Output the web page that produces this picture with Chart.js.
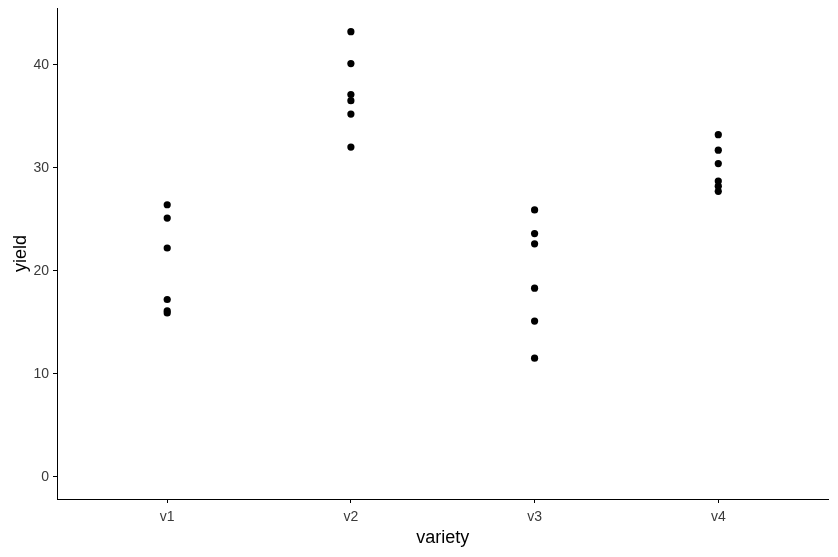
<!DOCTYPE html>
<html>
<head>
<meta charset="utf-8">
<script src="https://cdn.jsdelivr.net/npm/chart.js@4/dist/chart.umd.min.js"></script>
<style>
html,body{margin:0;padding:0;background:#fff;}
#wrap{width:838px;height:557px;}
</style>
</head>
<body>
<div id="wrap"><canvas id="c" width="838" height="557"></canvas></div>
<script>
const categories = ["v1", "v2", "v3", "v4"];
const v1 = [26.4, 25.1, 22.2, 17.2, 16.1, 15.9];
const v2 = [43.2, 40.1, 37.1, 36.5, 35.2, 32.0];
const v3 = [25.9, 23.6, 22.6, 18.3, 15.1, 11.5];
const v4 = [33.2, 31.7, 30.4, 28.7, 28.2, 27.7];
const yTicks = [0, 10, 20, 30, 40];

const series = [v1, v2, v3, v4];
const points = [];
series.forEach((vals, i) => vals.forEach(v => points.push({x: i + 1, y: v})));

const FONT = 'Liberation Sans, Arial, sans-serif';

new Chart(document.getElementById('c'), {
  type: 'scatter',
  data: {
    datasets: [{
      data: points,
      backgroundColor: '#000',
      borderColor: '#000',
      pointRadius: 3.6,
      pointHoverRadius: 3.6,
      borderWidth: 0
    }]
  },
  options: {
    responsive: false,
    animation: false,
    layout: {padding: {top: 8, right: 9.5, left: 0, bottom: 0}},
    plugins: {legend: {display: false}, tooltip: {enabled: false}},
    scales: {
      x: {
        type: 'linear',
        min: 0.4,
        max: 4.6,
        afterBuildTicks: s => { s.ticks = categories.map((c, i) => ({value: i + 1})); },
        afterFit: s => { s.height = 58; s.paddingLeft = 0; s.paddingRight = 0; },
        ticks: {
          callback: v => categories[v - 1],
          color: '#3a3a3a',
          font: {family: FONT, size: 14},
          padding: 6,
          autoSkip: false,
          maxRotation: 0
        },
        grid: {drawOnChartArea: false, color: '#000', tickLength: 4, tickWidth: 1},
        border: {color: '#000', width: 1},
        title: {display: true, text: 'variety', color: '#000', font: {family: FONT, size: 18}, padding: {top: 0, bottom: 8}}
      },
      y: {
        type: 'linear',
        min: -2.17,
        max: 45.5,
        afterBuildTicks: s => { s.ticks = yTicks.map(v => ({value: v})); },
        afterFit: s => { s.width = 57; s.paddingTop = 0; s.paddingBottom = 0; },
        ticks: {
          color: '#3a3a3a',
          font: {family: FONT, size: 14},
          padding: 4
        },
        grid: {drawOnChartArea: false, color: '#000', tickLength: 4, tickWidth: 1},
        border: {color: '#000', width: 1},
        title: {display: true, text: 'yield', color: '#000', font: {family: FONT, size: 18}, padding: {top: 10, bottom: 0}}
      }
    }
  }
});
</script>
</body>
</html>
